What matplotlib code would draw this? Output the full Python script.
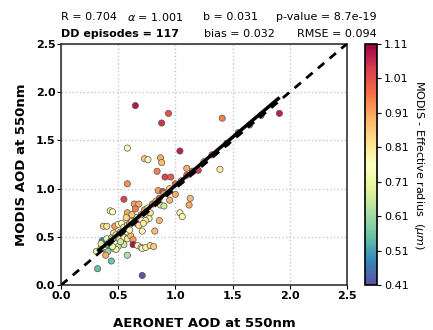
# Scatter MODIS vs AERONET AOD coloured by effective radius
import numpy as np
import matplotlib
matplotlib.use('Agg')
import matplotlib.pyplot as plt

# AERONET AOD (x), MODIS AOD (y), MODIS effective radius (colour)
aeronet = [0.65, 0.94, 0.88, 0.58, 1.04, 0.73, 0.76, 0.87, 0.88, 1.41,
           1.91, 1.39, 0.84, 0.91, 0.96, 1.10, 0.58, 1.20, 0.85, 0.89,
           1.00, 1.13, 1.12, 1.04, 1.06, 0.55, 0.43, 0.45, 0.58, 0.64,
           0.68, 0.65, 0.87, 0.90, 0.77, 0.74, 0.86, 0.66, 0.71, 0.82,
           0.37, 0.40, 0.47, 0.50, 0.53, 0.46, 0.55, 0.58, 0.36, 0.40,
           0.44, 0.48, 0.51, 0.55, 0.58, 0.61, 0.63, 0.63, 0.55, 0.50,
           0.46, 0.48, 0.43, 0.45, 0.39, 0.41, 0.31, 0.39, 0.58, 0.67,
           0.70, 0.71, 0.74, 0.78, 0.81, 0.44, 0.32, 0.71, 0.35, 0.38,
           0.42, 0.45, 0.48, 0.52, 0.55, 0.58, 0.60, 0.62, 0.66, 0.70,
           0.73, 0.76, 0.80, 0.83, 0.86, 0.90, 0.95, 1.00, 1.05, 1.10,
           1.15, 1.25, 1.32, 1.45, 1.55, 1.65, 1.75, 0.52, 0.60, 0.68,
           0.72, 0.40, 0.57, 0.62, 0.95, 0.78, 0.35]
modis = [1.86, 1.78, 1.68, 1.42, 1.39, 1.31, 1.30, 1.32, 1.27, 1.73,
         1.78, 1.20, 1.18, 1.12, 1.12, 1.21, 1.05, 1.19, 0.98, 0.97,
         0.94, 0.90, 0.83, 0.75, 0.71, 0.89, 0.77, 0.76, 0.75, 0.84,
         0.84, 0.79, 0.83, 0.82, 0.69, 0.67, 0.67, 0.64, 0.56, 0.56,
         0.61, 0.61, 0.61, 0.63, 0.64, 0.54, 0.57, 0.55, 0.46, 0.48,
         0.49, 0.49, 0.48, 0.49, 0.48, 0.51, 0.47, 0.42, 0.42, 0.40,
         0.38, 0.37, 0.41, 0.40, 0.37, 0.35, 0.35, 0.31, 0.31, 0.41,
         0.39, 0.38, 0.39, 0.41, 0.40, 0.25, 0.17, 0.10, 0.38, 0.40,
         0.44, 0.48, 0.52, 0.55, 0.60, 0.62, 0.64, 0.66, 0.70, 0.73,
         0.78, 0.80, 0.84, 0.87, 0.90, 0.95, 1.00, 1.05, 1.08, 1.14,
         1.18, 1.28, 1.35, 1.47, 1.58, 1.66, 1.76, 0.45, 0.57, 0.62,
         0.64, 0.42, 0.70, 0.73, 0.88, 0.75, 0.43]
radius = [1.08, 1.01, 1.05, 0.74, 1.07, 0.86, 0.78, 0.90, 0.88, 0.95,
          1.07, 0.80, 0.95, 1.03, 1.00, 0.90, 0.93, 1.04, 0.92, 1.02,
          0.90, 0.88, 0.90, 0.79, 0.78, 1.03, 0.79, 0.77, 0.91, 0.92,
          0.90, 0.95, 0.84, 0.66, 0.78, 0.80, 0.89, 1.05, 0.78, 0.88,
          0.85, 0.82, 0.92, 0.78, 0.76, 0.80, 0.76, 0.74, 0.48, 0.76,
          0.72, 0.70, 0.77, 0.79, 0.81, 0.88, 0.92, 1.09, 0.66, 0.64,
          0.68, 0.72, 0.75, 0.70, 0.63, 0.60, 0.80, 0.90, 0.63, 0.78,
          0.79, 0.77, 0.80, 0.82, 0.86, 0.56, 0.55, 0.42, 0.70, 0.75,
          0.78, 0.74, 0.80, 0.86, 0.72, 0.78, 0.92, 0.82, 0.77, 0.88,
          0.92, 0.80, 0.94, 0.88, 1.00, 0.92, 0.85, 0.98, 0.92, 1.00,
          0.95, 0.90, 1.02, 0.96, 1.00, 0.92, 1.03, 0.66, 0.78, 0.83,
          0.80, 0.58, 0.84, 0.86, 0.89, 0.82, 0.69]

# estadisticos
slope = 1.001
intercept = 0.031
fit_range = [0.33, 1.90]
cbar_ticks = [0.41, 0.51, 0.61, 0.71, 0.81, 0.91, 1.01, 1.11]
axis_ticks = [0.0, 0.5, 1.0, 1.5, 2.0, 2.5]

fig = plt.figure(figsize=(4.33, 3.30), dpi=100)
ax = fig.add_axes([0.141, 0.136, 0.660, 0.731])
cax = fig.add_axes([0.843, 0.136, 0.028, 0.731])

sc = ax.scatter(aeronet, modis, c=radius, cmap='Spectral_r', vmin=0.41, vmax=1.11,
                s=20, edgecolors='#555555', linewidths=0.5, zorder=2)

# recta 1:1 y ajuste
ax.plot([0, 2.5], [0, 2.5], 'k--', lw=2, dashes=(3, 2.5), zorder=3)
xf = np.array(fit_range)
ax.plot(xf, slope * xf + intercept, 'k-', lw=2.5, zorder=4)

ax.set_xlim(0, 2.5)
ax.set_ylim(0, 2.5)
ax.set_xticks(axis_ticks)
ax.set_yticks(axis_ticks)
ax.set_xticklabels([f'{t:.1f}' for t in axis_ticks], fontweight='bold', fontsize=8)
ax.set_yticklabels([f'{t:.1f}' for t in axis_ticks], fontweight='bold', fontsize=8)
ax.tick_params(length=3, pad=1)
ax.grid(True, linestyle=':', color='#c8c8c8', lw=1)
for sp in ax.spines.values():
    sp.set_linewidth(1.2)
    sp.set_color('#333333')

ax.set_xlabel('AERONET AOD at 550nm', fontweight='bold', fontsize=9.5, labelpad=12)
ax.set_ylabel('MODIS AOD at 550nm', fontweight='bold', fontsize=9.5, labelpad=6)

# textos de estadisticos
fig.text(0.141, 0.948, 'R = 0.704', fontsize=8, va='center')
fig.text(0.293, 0.948, r'$\alpha$ = 1.001', fontsize=8, va='center')
fig.text(0.469, 0.948, 'b = 0.031', fontsize=8, va='center')
fig.text(0.637, 0.948, 'p-value = 8.7e-19', fontsize=8, va='center')
fig.text(0.141, 0.898, 'DD episodes = 117', fontsize=8, fontweight='bold', va='center')
fig.text(0.471, 0.898, 'bias = 0.032', fontsize=8, va='center')
fig.text(0.686, 0.898, 'RMSE = 0.094', fontsize=8, va='center')

cb = fig.colorbar(sc, cax=cax, ticks=cbar_ticks)
cb.ax.set_yticklabels([f'{t:.2f}' for t in cbar_ticks], fontsize=8)
cb.ax.tick_params(length=3, pad=2)
cb.outline.set_linewidth(1.2)
cb.set_label(r'MODIS - Effective radius  ($\mu m$)', rotation=270, fontsize=8, labelpad=12)

fig.savefig('out.png', dpi=100)
